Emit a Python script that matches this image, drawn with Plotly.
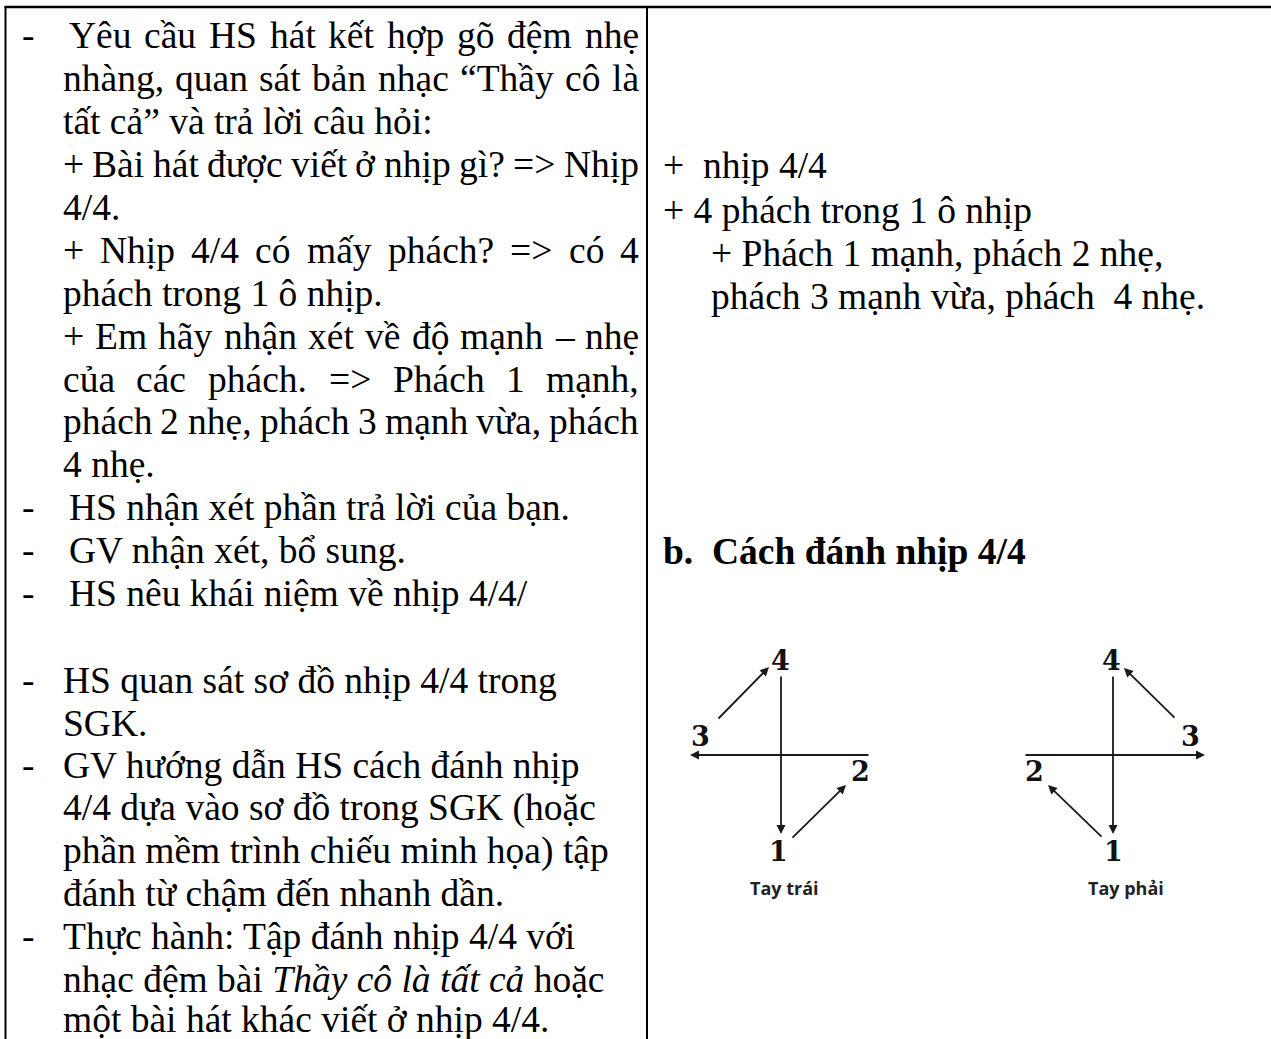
import unicodedata
import plotly.graph_objects as go

# ---------------- content (text) ----------------
left_lines = [
    "Yêu cầu HS hát kết hợp gõ đệm nhẹ",
    "nhàng, quan sát bản nhạc “Thầy cô là",
    "tất cả” và trả lời câu hỏi:",
    "+ Bài hát được viết ở nhịp gì? => Nhịp",
    "4/4.",
    "+ Nhịp 4/4 có mấy phách? => có 4",
    "phách trong 1 ô nhịp.",
    "+ Em hãy nhận xét về độ mạnh – nhẹ",
    "của các phách. => Phách 1 mạnh,",
    "phách 2 nhẹ, phách 3 mạnh vừa, phách",
    "4 nhẹ.",
    "HS nhận xét phần trả lời của bạn.",
    "GV nhận xét, bổ sung.",
    "HS nêu khái niệm về nhịp 4/4/",
    "HS quan sát sơ đồ nhịp 4/4 trong",
    "SGK.",
    "GV hướng dẫn HS cách đánh nhịp",
    "4/4 dựa vào sơ đồ trong SGK (hoặc",
    "phần mềm trình chiếu minh họa) tập",
    "đánh từ chậm đến nhanh dần.",
    "Thực hành: Tập đánh nhịp 4/4 với",
    "nhạc đệm bài <i>Thầy cô là tất cả</i> hoặc",
    "một bài hát khác viết ở nhịp 4/4.",
]
# which lines start with a bullet dash
left_bullet = [1, 0, 0, 0, 0, 0, 0, 0, 0, 0, 0, 1, 1, 1, 1, 0, 1, 0, 0, 0, 1, 0, 0]

right_lines = [
    "+  nhịp 4/4",
    "+ 4 phách trong 1 ô nhịp",
    "+ Phách 1 mạnh, phách 2 nhẹ,",
    "phách 3 mạnh vừa, phách  4 nhẹ.",
]
section_title = "b.  Cách đánh nhịp 4/4"

beat_labels = ["1", "2", "3", "4"]
hand_labels = ["Tay trái", "Tay phải"]

# ---------------- layout ----------------
W_PX, H_PX = 1271, 1039
FS = 37.5
FONT = "Liberation Serif"

left_y = [36, 79, 122, 165, 208, 251, 294, 337, 380, 422, 465, 508, 551, 594,
          681, 724, 766, 809, 852, 894, 937, 980, 1020]
XB, XC = 67.5, 61.5   # bullet text start / continuation start
left_x = [XB, XC, XC, XC, XC, XC, XC, XC, XC, XC, XC, XB, XB, XB,
          XC, XC, XC, XC, XC, XC, XC, XC, XC]
RJ = 638
left_just = [RJ, RJ, None, RJ, None, RJ, None, RJ, RJ, RJ, None, None, None, None,
             None, None, None, None, None, None, None, None, None]
right_y = [166, 211, 254, 297]
right_x = [662, 662, 710, 710]
title_xy = (662, 552)

# Times / Liberation Serif advance widths (1/1000 em)
TW = {' ': 250, 'a': 444, 'b': 500, 'c': 444, 'd': 500, 'e': 444, 'f': 333, 'g': 500,
      'h': 500, 'i': 278, 'j': 278, 'k': 500, 'l': 278, 'm': 778, 'n': 500, 'o': 500,
      'p': 500, 'q': 500, 'r': 333, 's': 389, 't': 278, 'u': 500, 'v': 500, 'w': 722,
      'x': 500, 'y': 500, 'z': 444, 'A': 722, 'B': 667, 'C': 667, 'D': 722, 'E': 611,
      'G': 722, 'H': 722, 'K': 722, 'N': 722, 'P': 556, 'S': 556, 'T': 611, 'V': 722,
      'Y': 722, '.': 250, ',': 250, '?': 444, ':': 278, '=': 564, '>': 564, '+': 564,
      '–': 500, '“': 444, '”': 444, '(': 333, ')': 333, '/': 278}


def char_w(ch):
    if ch in TW:
        return TW[ch]
    if ch == 'đ':
        return 500
    d = unicodedata.normalize('NFD', ch)
    w = TW.get(d[0], 500)
    if '\u031b' in d:
        w += 30
    return w


def word_w(word):
    return sum(char_w(c) for c in word) * FS / 1000.0


fig = go.Figure()
fig.add_trace(go.Scatter(x=[0, W_PX], y=[0, H_PX], mode="markers",
                         marker=dict(opacity=0), hoverinfo="skip", showlegend=False))

annots = []


def txt(x, y, s, size=FS, family=FONT, color="#000", xanchor="left"):
    annots.append(dict(x=x, y=y, xref="x", yref="y", text=s, showarrow=False,
                       xanchor=xanchor, yanchor="middle", borderpad=0,
                       font=dict(family=family, size=size, color=color)))


YOFF = -1
for i, line in enumerate(left_lines):
    y = left_y[i] + YOFF
    if left_bullet[i]:
        txt(21, y, "-")
    x0 = left_x[i]
    right = left_just[i]
    if right is None:
        txt(x0, y, line)
    else:
        words = line.split(" ")
        widths = [word_w(w) for w in words]
        gap = (right - x0 - sum(widths)) / (len(words) - 1)
        x = x0
        for w, ww in zip(words, widths):
            txt(x, y, w)
            x += ww + gap

for i, line in enumerate(right_lines):
    txt(right_x[i], right_y[i] + YOFF, line.replace("  ", "\u00a0 "))

txt(title_xy[0], title_xy[1] + YOFF, "<b>" + section_title.replace("  ", "\u00a0 ") + "</b>")

# ---------------- table borders ----------------
shapes = []
LC = "#000"
shapes.append(dict(type="line", x0=4.5, x1=W_PX, y0=7, y1=7, line=dict(color=LC, width=2.5)))
shapes.append(dict(type="line", x0=5.5, x1=5.5, y0=6, y1=H_PX, line=dict(color=LC, width=2)))
shapes.append(dict(type="line", x0=647, x1=647, y0=6, y1=H_PX, line=dict(color=LC, width=2)))

# ---------------- conducting diagrams ----------------
DC = "#1a1a1a"
diagrams = [
    dict(cx=781, hx0=870, hx1=690, beat_xy={"1": (778, 851), "2": (860, 771), "3": (700, 736), "4": (780, 660)},
         a34=((717, 720), (769, 667)), a12=((791, 839), (846, 785)), label_xy=(784, 888)),
    dict(cx=1113, hx0=1024, hx1=1205, beat_xy={"1": (1113, 851), "2": (1034, 771), "3": (1190, 736), "4": (1111, 660)},
         a34=((1176, 719), (1124, 668)), a12=((1103, 838), (1048, 785)), label_xy=(1126, 888)),
]
VY0, VY1, HY = 675, 834, 755


def arrow(tail, tip):
    annots.append(dict(x=tip[0], y=tip[1], ax=tail[0], ay=tail[1], xref="x", yref="y",
                       axref="x", ayref="y", text="", showarrow=True, arrowhead=2,
                       arrowsize=1.0, arrowwidth=1.8, arrowcolor=DC, standoff=0, startstandoff=0))


for k, d in enumerate(diagrams):
    arrow((d["cx"], VY0), (d["cx"], VY1))
    arrow((d["hx0"], HY), (d["hx1"], HY))
    arrow(*d["a34"])
    arrow(*d["a12"])
    for b in beat_labels:
        bx, by = d["beat_xy"][b]
        txt(bx, by, "<b>" + b + "</b>", size=27, family="DejaVu Serif", color="#111", xanchor="center")
    lx, ly = d["label_xy"]
    txt(lx, ly, "<b>" + hand_labels[k] + "</b>", size=18, family="Open Sans", color="#222", xanchor="center")

fig.update_layout(
    width=W_PX, height=H_PX, margin=dict(l=0, r=0, t=0, b=0),
    paper_bgcolor="white", plot_bgcolor="white",
    xaxis=dict(range=[0, W_PX], visible=False, fixedrange=True),
    yaxis=dict(range=[H_PX, 0], visible=False, fixedrange=True),
    annotations=annots, shapes=shapes, showlegend=False,
)

fig.write_html("out.html", config={"displayModeBar": False},
               post_script="document.body.style.margin='0px';document.body.style.overflow='hidden';")
